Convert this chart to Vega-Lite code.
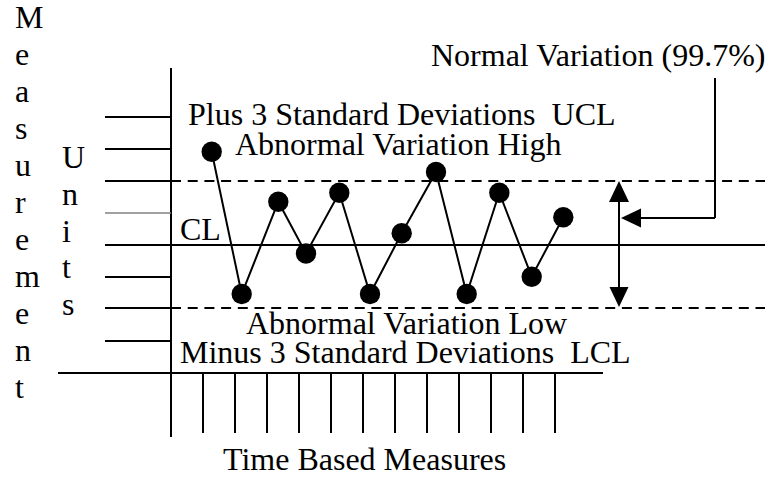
{
  "$schema": "https://vega.github.io/schema/vega-lite/v6.json",
  "width": 770,
  "height": 479,
  "autosize": {"type": "none"},
  "padding": 0,
  "background": "white",
  "config": {"view": {"stroke": null}},
  "datasets": {
    "solid": [
      {"x": 171, "y": 68, "x2": 171, "y2": 437},
      {"x": 105, "y": 117, "x2": 171, "y2": 117},
      {"x": 105, "y": 149, "x2": 171, "y2": 149},
      {"x": 105, "y": 181, "x2": 171, "y2": 181},
      {"x": 105, "y": 245, "x2": 171, "y2": 245},
      {"x": 105, "y": 277, "x2": 171, "y2": 277},
      {"x": 105, "y": 308, "x2": 171, "y2": 308},
      {"x": 105, "y": 341, "x2": 171, "y2": 341},
      {"x": 58, "y": 373, "x2": 603, "y2": 373},
      {"x": 203, "y": 373, "x2": 203, "y2": 433},
      {"x": 235, "y": 373, "x2": 235, "y2": 433},
      {"x": 267, "y": 373, "x2": 267, "y2": 433},
      {"x": 299, "y": 373, "x2": 299, "y2": 433},
      {"x": 331, "y": 373, "x2": 331, "y2": 433},
      {"x": 363, "y": 373, "x2": 363, "y2": 433},
      {"x": 395, "y": 373, "x2": 395, "y2": 433},
      {"x": 427, "y": 373, "x2": 427, "y2": 433},
      {"x": 459, "y": 373, "x2": 459, "y2": 433},
      {"x": 491, "y": 373, "x2": 491, "y2": 433},
      {"x": 523, "y": 373, "x2": 523, "y2": 433},
      {"x": 555, "y": 373, "x2": 555, "y2": 433},
      {"x": 171, "y": 245, "x2": 765, "y2": 245},
      {"x": 619, "y": 186, "x2": 619, "y2": 302},
      {"x": 715, "y": 78, "x2": 715, "y2": 218},
      {"x": 715, "y": 218, "x2": 635, "y2": 218}
    ],
    "gray": [
      {"x": 105, "y": 213, "x2": 171, "y2": 213}
    ],
    "dashed": [
      {"x": 171, "y": 181, "x2": 765, "y2": 181},
      {"x": 171, "y": 308, "x2": 765, "y2": 308}
    ],
    "arrowUp": [{"x": 619, "y": 191.5}],
    "arrowDown": [{"x": 619, "y": 297}],
    "arrowLeft": [{"x": 631, "y": 218}],
    "points": [
      {"i": 1, "x": 211.7, "y": 151.7},
      {"i": 2, "x": 241.7, "y": 294},
      {"i": 3, "x": 278.3, "y": 201.7},
      {"i": 4, "x": 306, "y": 253.5},
      {"i": 5, "x": 339.3, "y": 192.7},
      {"i": 6, "x": 370, "y": 294},
      {"i": 7, "x": 401.7, "y": 233.3},
      {"i": 8, "x": 436, "y": 172},
      {"i": 9, "x": 466.7, "y": 294},
      {"i": 10, "x": 499.3, "y": 192.7},
      {"i": 11, "x": 531.7, "y": 276.7},
      {"i": 12, "x": 563.3, "y": 217.3}
    ],
    "labels": [
      {"label": "Normal Variation (99.7%)", "x": 431, "y": 66},
      {"label": "Plus 3 Standard Deviations\u00a0\u00a0UCL", "x": 188, "y": 125},
      {"label": "Abnormal Variation High", "x": 235, "y": 155},
      {"label": "CL", "x": 180, "y": 240},
      {"label": "Abnormal Variation Low", "x": 246, "y": 334},
      {"label": "Minus 3 Standard Deviations\u00a0\u00a0LCL", "x": 180, "y": 363},
      {"label": "Time Based Measures", "x": 223, "y": 470},
      {"label": "M", "x": 15, "y": 28},
      {"label": "e", "x": 15, "y": 65},
      {"label": "a", "x": 15, "y": 102},
      {"label": "s", "x": 15, "y": 139},
      {"label": "u", "x": 15, "y": 176},
      {"label": "r", "x": 15, "y": 213},
      {"label": "e", "x": 15, "y": 250},
      {"label": "m", "x": 15, "y": 287},
      {"label": "e", "x": 15, "y": 324},
      {"label": "n", "x": 15, "y": 361},
      {"label": "t", "x": 15, "y": 398},
      {"label": "U", "x": 62, "y": 168},
      {"label": "n", "x": 62, "y": 205},
      {"label": "i", "x": 62, "y": 242},
      {"label": "t", "x": 62, "y": 278},
      {"label": "s", "x": 62, "y": 315}
    ]
  },
  "layer": [
    {
      "data": {"name": "solid"},
      "mark": {"type": "rule", "color": "black", "strokeWidth": 2},
      "encoding": {
        "x": {"field": "x", "type": "quantitative", "scale": {"domain": [0, 770], "nice": false, "zero": false}, "axis": null},
        "y": {"field": "y", "type": "quantitative", "scale": {"domain": [0, 479], "nice": false, "zero": false, "reverse": true}, "axis": null},
        "x2": {"field": "x2"},
        "y2": {"field": "y2"}
      }
    },
    {
      "data": {"name": "gray"},
      "mark": {"type": "rule", "color": "#808080", "strokeWidth": 1.5},
      "encoding": {
        "x": {"field": "x", "type": "quantitative"},
        "y": {"field": "y", "type": "quantitative"},
        "x2": {"field": "x2"},
        "y2": {"field": "y2"}
      }
    },
    {
      "data": {"name": "dashed"},
      "mark": {"type": "rule", "color": "black", "strokeWidth": 2, "strokeDash": [10, 6.7]},
      "encoding": {
        "x": {"field": "x", "type": "quantitative"},
        "y": {"field": "y", "type": "quantitative"},
        "x2": {"field": "x2"},
        "y2": {"field": "y2"}
      }
    },
    {
      "data": {"name": "arrowUp"},
      "mark": {"type": "point", "shape": "M-0.95,1L0.95,1L0,-1Z", "filled": true, "color": "black", "opacity": 1, "size": 441, "strokeWidth": 0},
      "encoding": {
        "x": {"field": "x", "type": "quantitative"},
        "y": {"field": "y", "type": "quantitative"}
      }
    },
    {
      "data": {"name": "arrowDown"},
      "mark": {"type": "point", "shape": "M-0.95,-1L0.95,-1L0,1Z", "filled": true, "color": "black", "opacity": 1, "size": 400, "strokeWidth": 0},
      "encoding": {
        "x": {"field": "x", "type": "quantitative"},
        "y": {"field": "y", "type": "quantitative"}
      }
    },
    {
      "data": {"name": "arrowLeft"},
      "mark": {"type": "point", "shape": "M1,-0.95L1,0.95L-1,0Z", "filled": true, "color": "black", "opacity": 1, "size": 400, "strokeWidth": 0},
      "encoding": {
        "x": {"field": "x", "type": "quantitative"},
        "y": {"field": "y", "type": "quantitative"}
      }
    },
    {
      "data": {"name": "points"},
      "mark": {"type": "line", "color": "black", "strokeWidth": 2},
      "encoding": {
        "x": {"field": "x", "type": "quantitative"},
        "y": {"field": "y", "type": "quantitative"},
        "order": {"field": "i", "type": "quantitative"}
      }
    },
    {
      "data": {"name": "points"},
      "mark": {"type": "point", "shape": "circle", "filled": true, "color": "black", "opacity": 1, "size": 415, "strokeWidth": 0},
      "encoding": {
        "x": {"field": "x", "type": "quantitative"},
        "y": {"field": "y", "type": "quantitative"}
      }
    },
    {
      "data": {"name": "labels"},
      "mark": {"type": "text", "font": "Liberation Serif", "fontSize": 32, "color": "black", "align": "left", "baseline": "alphabetic"},
      "encoding": {
        "x": {"field": "x", "type": "quantitative"},
        "y": {"field": "y", "type": "quantitative"},
        "text": {"field": "label"}
      }
    }
  ]
}
